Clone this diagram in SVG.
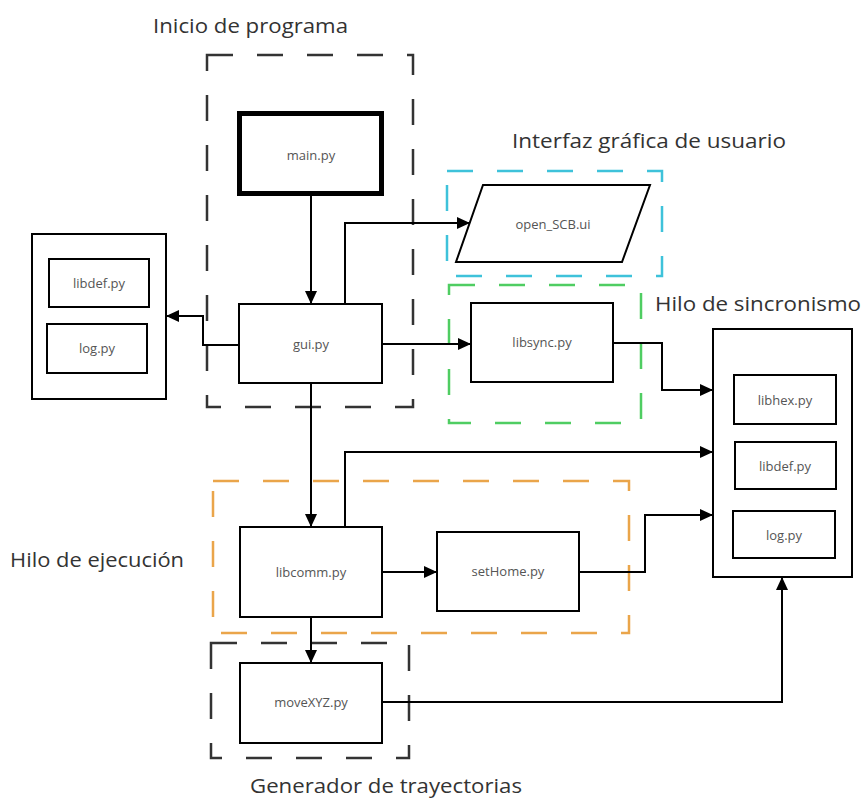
<svg xmlns="http://www.w3.org/2000/svg" width="865" height="800" viewBox="0 0 865 800">
  <style>
    .box { fill: #fff; stroke: #000; stroke-width: 2; }
    .group { fill: none; stroke-width: 2.5; stroke-dasharray: 26 24; }
    .lbl { font-family: "Open Sans", "DejaVu Sans", sans-serif; font-size: 13px; fill: #555; text-anchor: middle; dominant-baseline: central; }
    .title { font-family: "Open Sans", "DejaVu Sans", sans-serif; font-size: 20px; fill: #333; }
    .wire { fill: none; stroke: #000; stroke-width: 2; marker-end: url(#arrow); }
  </style>
  <defs>
    <marker id="arrow" markerWidth="14" markerHeight="12" refX="13" refY="6" orient="auto" markerUnits="userSpaceOnUse">
      <path d="M0,0 L13,6 L0,12 Z" fill="#000"/>
    </marker>
  </defs>

  <rect width="865" height="800" fill="#fff"/>

  <!-- grouping frames -->
  <g id="frames">
    <rect class="group" x="207" y="55" width="206" height="352" stroke="#333"/>
    <rect class="group" x="447" y="171" width="215" height="105" stroke="#3ec2da"/>
    <rect class="group" x="449" y="285" width="192" height="138" stroke="#4fcd62"/>
    <rect class="group" x="213" y="481" width="416" height="152" stroke="#eaa54a"/>
    <rect class="group" x="211" y="643" width="198" height="115" stroke="#333"/>
  </g>

  <!-- frame titles -->
  <g id="titles">
    <text class="title" x="153" y="33" textLength="195" lengthAdjust="spacingAndGlyphs">Inicio de programa</text>
    <text class="title" x="512" y="148" textLength="274" lengthAdjust="spacingAndGlyphs">Interfaz gráfica de usuario</text>
    <text class="title" x="655" y="311" textLength="206" lengthAdjust="spacingAndGlyphs">Hilo de sincronismo</text>
    <text class="title" x="10" y="567" textLength="174" lengthAdjust="spacingAndGlyphs">Hilo de ejecución</text>
    <text class="title" x="250" y="793" textLength="272" lengthAdjust="spacingAndGlyphs">Generador de trayectorias</text>
  </g>

  <!-- connectors -->
  <g id="connectors">
    <path class="wire" d="M311 196 V304"/>
    <path class="wire" d="M345 304 V223 H470"/>
    <path class="wire" d="M382 344 H471"/>
    <path class="wire" d="M239 345 H203 V316 H166"/>
    <path class="wire" d="M613 343 H662 V390 H713"/>
    <path class="wire" d="M311 383 V527"/>
    <path class="wire" d="M345 527 V452 H713"/>
    <path class="wire" d="M382 572 H437"/>
    <path class="wire" d="M579 572 H645 V515 H713"/>
    <path class="wire" d="M311 617 V663"/>
    <path class="wire" d="M382 702 H782 V577"/>
  </g>

  <g id="main">
    <rect x="239.5" y="113.5" width="142" height="80" fill="#fff" stroke="#000" stroke-width="5"/>
    <text class="lbl" x="311" y="155">main.py</text>
  </g>
  <g id="gui">
    <rect class="box" x="239" y="304" width="143" height="79"/>
    <text class="lbl" x="311" y="344">gui.py</text>
  </g>
  <g id="common-left">
    <rect class="box" x="32" y="234" width="134" height="165"/>
    <rect class="box" x="49" y="259" width="100" height="48"/>
    <text class="lbl" x="99" y="283">libdef.py</text>
    <rect class="box" x="47" y="324" width="100" height="49"/>
    <text class="lbl" x="97" y="348">log.py</text>
  </g>
  <g id="open_scb">
    <path class="box" d="M483 185 H650 L622 262 H456 Z"/>
    <text class="lbl" x="553" y="224">open_SCB.ui</text>
  </g>
  <g id="libsync">
    <rect class="box" x="471" y="303" width="142" height="79"/>
    <text class="lbl" x="542" y="342">libsync.py</text>
  </g>
  <g id="common-right">
    <rect class="box" x="713" y="329" width="139" height="248"/>
    <rect class="box" x="734" y="375" width="102" height="49"/>
    <text class="lbl" x="785" y="400">libhex.py</text>
    <rect class="box" x="735" y="442" width="101" height="47"/>
    <text class="lbl" x="785" y="466">libdef.py</text>
    <rect class="box" x="733" y="511" width="102" height="47"/>
    <text class="lbl" x="784" y="535">log.py</text>
  </g>
  <g id="libcomm">
    <rect class="box" x="240" y="527" width="142" height="90"/>
    <text class="lbl" x="311" y="572">libcomm.py</text>
  </g>
  <g id="sethome">
    <rect class="box" x="437" y="532" width="142" height="79"/>
    <text class="lbl" x="508" y="571">setHome.py</text>
  </g>
  <g id="movexyz">
    <rect class="box" x="240" y="663" width="142" height="80"/>
    <text class="lbl" x="311" y="702">moveXYZ.py</text>
  </g>
</svg>
